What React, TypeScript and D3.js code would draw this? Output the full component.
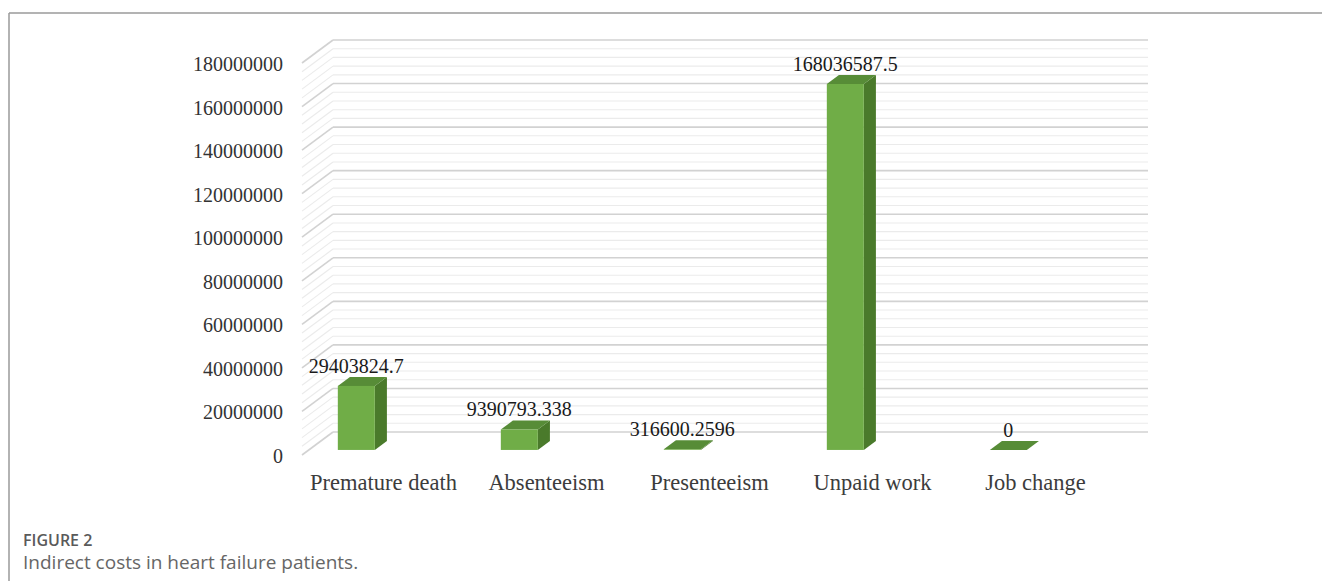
import React from "react";
import * as d3 from "d3";

const categories = ["Premature death", "Absenteeism", "Presenteeism", "Unpaid work", "Job change"];
const values = [29403824.7, 9390793.338, 316600.2596, 168036587.5, 0];
const valueLabels = ["29403824.7", "9390793.338", "316600.2596", "168036587.5", "0"];
const yTicks = [0, 20000000, 40000000, 60000000, 80000000, 100000000, 120000000, 140000000, 160000000, 180000000];
const minorStep = 4000000;

const W = 1322;
const H = 581;

export default function App() {
  const wallLeft = 333;
  const wallRight = 1148;
  const yScale = d3.scaleLinear().domain([0, 180000000]).range([432, 40]);
  const x = d3.scaleBand<string>().domain(categories).range([wallLeft, wallRight]);
  const bw = x.bandwidth();
  // depth vector from back wall to the front edge of floor
  const DX = -31;
  const DY = 23;
  const frontFrac = 0.78;
  const backFrac = 0.39;
  const barOffset = 29;
  const barWidth = 37;

  const minor = d3.range(0, 180000000 + 1, minorStep).filter((v) => v % 20000000 !== 0);

  const grid = (v: number, major: boolean, key: string) => {
    const y = yScale(v);
    const stroke = major ? "#d2d2d2" : "#ebebeb";
    const sw = major ? 1.6 : 1.1;
    return (
      <g key={key}>
        <line x1={wallLeft} y1={y} x2={wallRight} y2={y} stroke={stroke} strokeWidth={sw} />
        <line x1={wallLeft} y1={y} x2={wallLeft + DX} y2={y + DY} stroke={stroke} strokeWidth={sw} />
      </g>
    );
  };

  const serif = "'Liberation Serif', 'Times New Roman', serif";
  const sans = "'Open Sans', 'Noto Sans', sans-serif";

  return (
    <svg width={W} height={H} style={{ position: "absolute", left: 0, top: 0, background: "#fff" }}>
      <rect x={0} y={0} width={W} height={H} fill="#fff" />
      {/* frame */}
      <line x1={9} y1={13} x2={W} y2={13} stroke="#9a9a9a" strokeWidth={1.5} />
      <line x1={9} y1={13} x2={9} y2={H} stroke="#9a9a9a" strokeWidth={1.5} />

      {/* gridlines */}
      {minor.map((v, i) => grid(v, false, "m" + i))}
      {yTicks.map((v, i) => grid(v, true, "M" + i))}

      {/* y tick labels */}
      {yTicks.map((v) => (
        <text
          key={"yl" + v}
          x={283}
          y={yScale(v) + DY + 8}
          textAnchor="end"
          fontFamily={serif}
          fontSize={20}
          fill="#333333"
        >
          {String(v)}
        </text>
      ))}

      {/* bars */}
      {categories.map((c, i) => {
        const v = values[i];
        const fx = (x(c) as number) + DX * frontFrac + barOffset;
        const fyBottom = yScale(0) + DY * frontFrac;
        const fyTop = yScale(v) + DY * frontFrac;
        const ddx = -DX * (frontFrac - backFrac);
        const ddy = -DY * (frontFrac - backFrac);
        const side = [
          [fx + barWidth, fyTop],
          [fx + barWidth + ddx, fyTop + ddy],
          [fx + barWidth + ddx, fyBottom + ddy],
          [fx + barWidth, fyBottom],
        ];
        const top = [
          [fx, fyTop],
          [fx + ddx, fyTop + ddy],
          [fx + barWidth + ddx, fyTop + ddy],
          [fx + barWidth, fyTop],
        ];
        const pts = (p: number[][]) => p.map((q) => q.join(",")).join(" ");
        return (
          <g key={c}>
            <polygon points={pts(side)} fill="#4a7a2b" />
            <polygon points={pts(top)} fill="#578c37" />
            {fyBottom - fyTop > 0.3 && (
              <rect x={fx} y={fyTop} width={barWidth} height={fyBottom - fyTop} fill="#70ad47" />
            )}
            <text
              x={fx + barWidth / 2}
              y={fyTop - 13}
              textAnchor="middle"
              fontFamily={serif}
              fontSize={20}
              fill="#1a1a1a"
            >
              {valueLabels[i]}
            </text>
          </g>
        );
      })}

      {/* category labels */}
      {categories.map((c) => (
        <text
          key={"cl" + c}
          x={(x(c) as number) + bw / 2 + DX}
          y={490}
          textAnchor="middle"
          fontFamily={serif}
          fontSize={22.5}
          fill="#3c3c3c"
        >
          {c}
        </text>
      ))}

      {/* caption */}
      <text x={23} y={546} fontFamily={sans} fontSize={16} fontWeight={600} fill="#5a5a5a">
        FIGURE 2
      </text>
      <text x={23} y={569} fontFamily={sans} fontSize={19} fill="#666666">
        Indirect costs in heart failure patients.
      </text>
    </svg>
  );
}
